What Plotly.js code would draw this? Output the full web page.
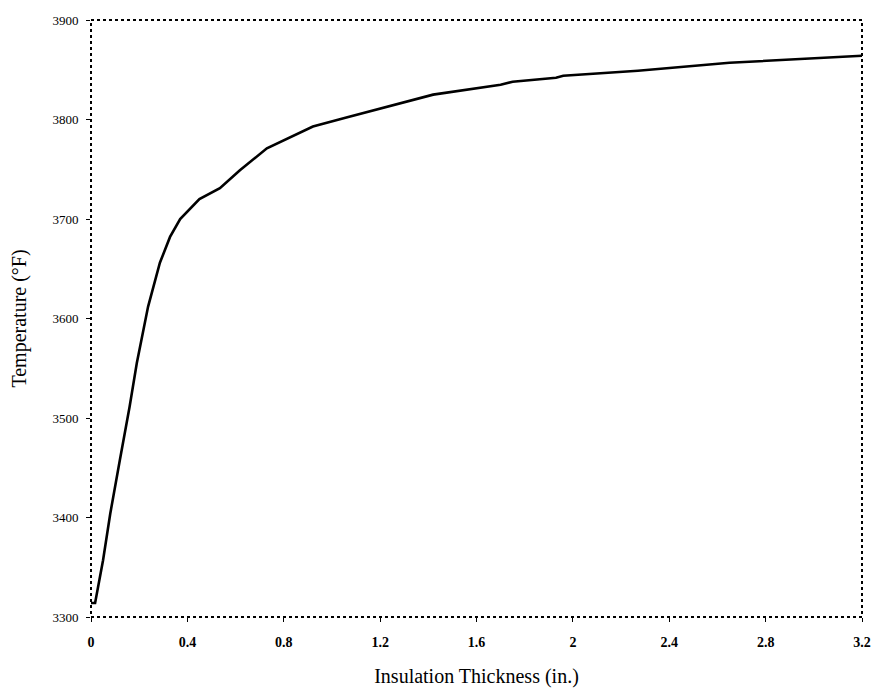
<!DOCTYPE html>
<html>
<head>
<meta charset="utf-8">
<script src="https://cdn.plot.ly/plotly-3.0.1.min.js"></script>
<style>html,body{margin:0;padding:0;background:#fff;}#chart{width:878px;height:690px;}</style>
</head>
<body>
<div id="chart"></div>
<script>
const thickness = [0, 0.017, 0.05, 0.08, 0.12, 0.16, 0.19, 0.237, 0.286, 0.328, 0.37, 0.45, 0.535, 0.618, 0.73, 0.826, 0.921, 1.06, 1.2, 1.42, 1.70, 1.75, 1.93, 1.96, 2.27, 2.65, 3.2];
const temperature = [3314, 3314, 3357, 3404, 3458, 3511, 3555, 3612, 3656, 3682, 3700, 3720, 3731, 3749, 3771, 3782, 3793, 3802, 3811, 3825, 3835, 3838, 3842, 3844, 3849, 3857, 3864];
const xTicks = [0, 0.4, 0.8, 1.2, 1.6, 2, 2.4, 2.8, 3.2];
const xTickText = ["0", "0.4", "0.8", "1.2", "1.6", "2", "2.4", "2.8", "3.2"];
const yTicks = [3300, 3400, 3500, 3600, 3700, 3800, 3900];

const serif = "Liberation Serif, Times New Roman, serif";

Plotly.newPlot('chart', [{
  x: thickness,
  y: temperature,
  type: 'scatter',
  mode: 'lines',
  line: {color: '#000', width: 2.6, shape: 'linear'},
  showlegend: false,
  hoverinfo: 'skip'
}], {
  width: 878,
  height: 690,
  margin: {l: 91, r: 16, t: 20, b: 73},
  paper_bgcolor: '#fff',
  plot_bgcolor: '#fff',
  xaxis: {
    range: [0, 3.2],
    tickvals: xTicks,
    ticktext: xTickText,
    ticks: 'outside',
    ticklen: 4,
    tickcolor: '#000',
    ticklabelstandoff: 8,
    showgrid: false,
    zeroline: false,
    showline: false,
    tickfont: {family: serif, size: 14, color: '#000', weight: 'bold'},
    title: {text: 'Insulation Thickness (in.)', font: {family: serif, size: 20, color: '#000'}, standoff: 20}
  },
  yaxis: {
    range: [3300, 3900],
    tickvals: yTicks,
    ticks: 'outside',
    ticklen: 4,
    tickcolor: '#000',
    ticklabelstandoff: 5,
    showgrid: false,
    zeroline: false,
    showline: false,
    tickfont: {family: serif, size: 13, color: '#000'},
    title: {text: 'Temperature (°F)', font: {family: serif, size: 20, color: '#000'}, standoff: 20}
  },
  shapes: [{
    type: 'rect', xref: 'paper', yref: 'paper', x0: 0, x1: 1, y0: 0, y1: 1,
    line: {color: '#000', width: 2, dash: 'dot'}
  }]
}, {staticPlot: true, displayModeBar: false});
</script>
</body>
</html>
